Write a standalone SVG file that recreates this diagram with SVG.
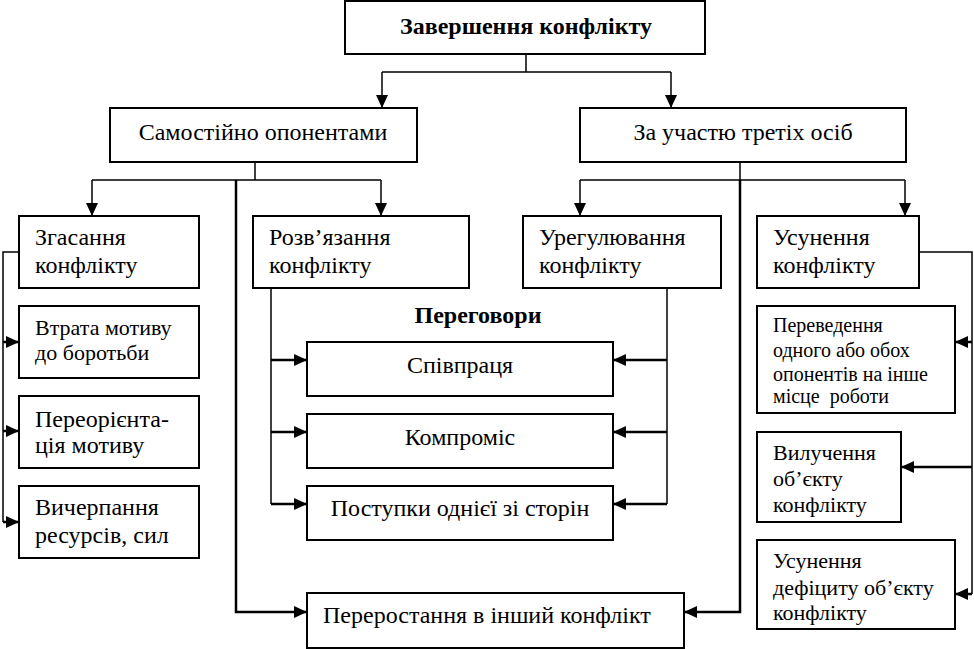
<svg xmlns="http://www.w3.org/2000/svg" width="974" height="649" viewBox="0 0 974 649">
<style>
.box{fill:#fff;stroke:#000;stroke-width:2}
.t{font-family:"Liberation Serif","Times New Roman",serif;font-size:24px;fill:#000}
.b{font-weight:bold}
.s{font-size:20px}
.m{font-size:22px}
.c{fill:none;stroke:#000;stroke-width:1.5}
.a{fill:none;stroke:#000;stroke-width:2.5;marker-end:url(#ah)}
.ad{fill:none;stroke:#000;stroke-width:1.5;marker-end:url(#ah)}
</style>
<defs>
<marker id="ah" markerUnits="userSpaceOnUse" markerWidth="13" markerHeight="12" refX="13" refY="6" orient="auto">
<path d="M0,0 L13,6 L0,12 z" fill="#000"/>
</marker>
</defs>
<rect width="974" height="649" fill="#fff"/>
<g id="connectors">
<path class="c" d="M526,54 V72 M382,72 H671"/>
<path class="ad" d="M382,72 V108"/>
<path class="ad" d="M671,72 V108"/>
<path class="c" d="M255,162 V180 M92,180 H381"/>
<path class="ad" d="M92,180 V216"/>
<path class="ad" d="M381,180 V216"/>
<path class="c" d="M740,162 V180 M580,180 H905"/>
<path class="ad" d="M580,180 V216"/>
<path class="ad" d="M905,180 V216"/>
<path class="a" d="M236,180 V612 H307"/>
<path class="a" d="M740,180 V612 H684"/>
<path class="c" d="M19,252 H3 V522"/>
<path class="a" d="M3,342 H19"/>
<path class="a" d="M3,431 H19"/>
<path class="a" d="M3,522 H19"/>
<path class="c" d="M271,288 V504"/>
<path class="a" d="M271,360 H307"/>
<path class="a" d="M271,432 H307"/>
<path class="a" d="M271,504 H307"/>
<path class="c" d="M667,288 V504"/>
<path class="a" d="M667,360 H613"/>
<path class="a" d="M667,432 H613"/>
<path class="a" d="M667,504 H613"/>
<path class="c" d="M919,252 H972 V594"/>
<path class="a" d="M972,342 H955"/>
<path class="a" d="M972,467 H901"/>
<path class="a" d="M972,594 H955"/>
</g>
<g id="n-root"><rect class="box" x="345" y="1" width="360" height="53"/><text class="t b" x="526" y="34" text-anchor="middle">Завершення конфлікту</text></g>
<g id="n-self"><rect class="box" x="110" y="108" width="307" height="54"/><text class="t" x="263" y="140" text-anchor="middle">Самостійно опонентами</text></g>
<g id="n-third"><rect class="box" x="580" y="108" width="326" height="54"/><text class="t" x="743" y="140" text-anchor="middle">За участю третіх осіб</text></g>
<g id="n-fade"><rect class="box" x="19" y="216" width="180" height="72"/><text class="t" x="35" y="245">Згасання</text><text class="t" x="35" y="273">конфлікту</text></g>
<g id="n-loss"><rect class="box" x="19" y="306" width="180" height="72"/><text class="t m" x="35" y="335">Втрата мотиву</text><text class="t m" x="35" y="360">до боротьби</text></g>
<g id="n-reorient"><rect class="box" x="19" y="396" width="180" height="72"/><text class="t" x="35" y="427">Переорієнта-</text><text class="t" x="35" y="453">ція мотиву</text></g>
<g id="n-exhaust"><rect class="box" x="19" y="486" width="180" height="72"/><text class="t" x="35" y="515">Вичерпання</text><text class="t" x="35" y="543">ресурсів, сил</text></g>
<g id="n-resolve"><rect class="box" x="253" y="216" width="216" height="72"/><text class="t" x="269" y="245">Розв’язання</text><text class="t" x="269" y="273">конфлікту</text></g>
<g id="n-settle"><rect class="box" x="523" y="216" width="198" height="72"/><text class="t" x="539" y="245">Урегулювання</text><text class="t" x="539" y="273">конфлікту</text></g>
<g id="n-elim"><rect class="box" x="757" y="216" width="162" height="72"/><text class="t" x="773" y="245">Усунення</text><text class="t" x="773" y="273">конфлікту</text></g>
<g id="n-negot"><text class="t b" x="478" y="323" text-anchor="middle">Переговори</text></g>
<g id="n-coop"><rect class="box" x="307" y="342" width="306" height="54"/><text class="t" x="460" y="373" text-anchor="middle">Співпраця</text></g>
<g id="n-comp"><rect class="box" x="307" y="414" width="306" height="54"/><text class="t" x="460" y="445" text-anchor="middle">Компроміс</text></g>
<g id="n-conc"><rect class="box" x="307" y="486" width="306" height="54"/><text class="t" x="460" y="516" text-anchor="middle">Поступки однієї зі сторін</text></g>
<g id="n-grow"><rect class="box" x="307" y="593" width="377" height="55"/><text class="t" x="323" y="623">Переростання в інший конфлікт</text></g>
<g id="n-transfer"><rect class="box" x="757" y="306" width="198" height="107"/><text class="t s" x="773" y="332">Переведення</text><text class="t s" x="773" y="357">одного або обох</text><text class="t s" x="773" y="381">опонентів на інше</text><text class="t s" x="773" y="403" xml:space="preserve">місце  роботи</text></g>
<g id="n-remove"><rect class="box" x="757" y="432" width="144" height="90"/><text class="t m" x="773" y="460">Вилучення</text><text class="t m" x="773" y="486">об’єкту</text><text class="t m" x="773" y="512">конфлікту</text></g>
<g id="n-deficit"><rect class="box" x="757" y="540" width="198" height="89"/><text class="t m" x="773" y="568">Усунення</text><text class="t m" x="773" y="595">дефіциту об’єкту</text><text class="t m" x="773" y="620">конфлікту</text></g>
</svg>
